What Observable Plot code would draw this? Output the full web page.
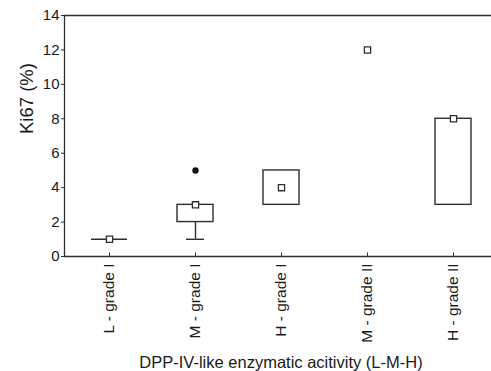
<!DOCTYPE html>
<html><head><meta charset="utf-8">
<script src="https://cdn.jsdelivr.net/npm/d3@7"></script>
<script src="https://cdn.jsdelivr.net/npm/@observablehq/plot@0.6"></script>
<style>html,body{margin:0;padding:0;background:#fff;} svg{overflow:hidden;display:block}</style>
</head><body><div id="chart"></div>
<script>
const categories = ["L - grade I", "M - grade I", "H - grade I", "M - grade II", "H - grade II"];
const medians = [1, 3, 4, 12, 8];
const boxLow = [1, 2, 3, null, 3];
const boxHigh = [1, 3, 5, null, 8];
const whiskerLow = [1, 1, 3, null, 3];
const outlierCats = ["M - grade I"];
const outlierValues = [5];
const yTicks = [0, 2, 4, 6, 8, 10, 12, 14];
const yLabel = "Ki67 (%)";
const xLabel = "DPP-IV-like enzymatic acitivity (L-M-H)";

const rows = categories.map((c, i) => ({cat: c, med: medians[i], lo: boxLow[i], hi: boxHigh[i], wlo: whiskerLow[i]}));
const boxes = rows.filter(d => d.lo != null && d.hi > d.lo);
const flat = rows.filter(d => d.lo != null && d.hi === d.lo);
const whisk = rows.filter(d => d.lo != null && d.wlo < d.lo);
const outliers = outlierCats.map((c, i) => ({cat: c, v: outlierValues[i]}));

const ink = "#2e2e2e";
const chart = Plot.plot({
  width: 491, height: 371,
  marginLeft: 64, marginRight: 0, marginTop: 15, marginBottom: 115,
  style: {fontFamily: "'Liberation Sans', Arial, sans-serif", fontSize: "15px", color: "#1a1a1a", background: "#fff", overflow: "hidden"},
  x: {type: "band", domain: categories, range: [64, 497.5], paddingInner: 0.585, paddingOuter: 0.2925},
  y: {domain: [0, 14]},
  marks: [
    Plot.ruleY([0, 14], {stroke: ink, strokeWidth: 1.3}),
    Plot.frame({anchor: "left", stroke: ink, strokeWidth: 1.3}),
    Plot.axisY({ticks: yTicks, tickSize: 3, tickPadding: 2, fontSize: 15, label: null, stroke: ink}),
    Plot.axisX({tickSize: 0, tickPadding: 7, tickRotate: -90, fontSize: 15.5, label: null}),
    Plot.ruleX(categories, {x: d => d, y1: 0, y2: 0.2, stroke: ink}),
    Plot.barY(boxes, {x: "cat", y1: "lo", y2: "hi", fill: "none", stroke: ink, strokeWidth: 1.4}),
    Plot.tickY(flat, {x: "cat", y: "lo", stroke: ink, strokeWidth: 1.4}),
    Plot.ruleX(whisk, {x: "cat", y1: "wlo", y2: "lo", stroke: ink, strokeWidth: 1.4}),
    Plot.tickY(whisk, {x: "cat", y: "wlo", stroke: ink, strokeWidth: 1.4, insetLeft: 9, insetRight: 9}),
    Plot.dot(rows, {x: "cat", y: "med", symbol: "square", r: 3.5, fill: "#fff", stroke: ink, strokeWidth: 1.3}),
    Plot.dot(outliers, {x: "cat", y: "v", r: 3.2, fill: "#111", stroke: "none"}),
    Plot.text([yLabel], {frameAnchor: "left", dx: -37, dy: -2, rotate: -90, fontSize: 18.5, fill: "#1a1a1a"}),
    Plot.text([xLabel], {frameAnchor: "bottom", dx: 3, dy: 111, fontSize: 16.5, fill: "#1a1a1a"})
  ]
});
document.getElementById("chart").appendChild(chart);
</script>
</body></html>
